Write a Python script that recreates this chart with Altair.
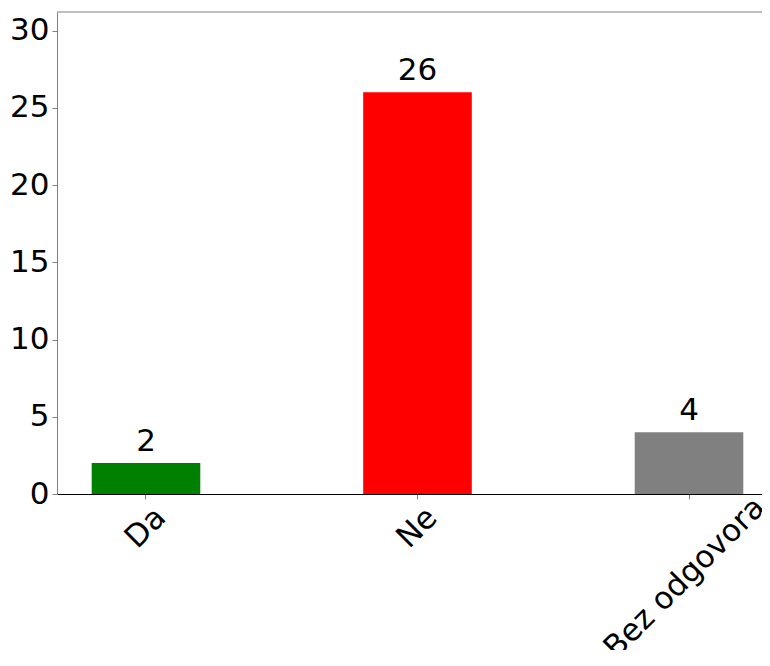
import json
import altair as alt
import pandas as pd

# ---- data ----
categories = ["Da", "Ne", "Bez odgovora"]
counts = [2, 26, 4]
bar_colors = ["#008000", "#ff0000", "#808080"]
title_text = "[Forumske diskusije]"
y_ticks = [0, 5, 10, 15, 20, 25, 30]

df = pd.DataFrame({"odgovor": categories, "broj": counts, "boja": bar_colors})

FONT = "DejaVu Sans"
W, H = 705, 482

x_scale = alt.Scale(domain=categories, paddingInner=0.6, paddingOuter=0.0983,
                    align=0.6498, round=False)
y_scale = alt.Scale(domain=[0, 31.2], nice=False, zero=True)

last_cat = json.dumps(categories[-1])

x_axis = alt.Axis(
    title=None,
    labelAngle=315,
    labelAlign="center",
    labelBaseline="middle",
    labelFontSize=31,
    labelFont=FONT,
    labelColor="black",
    labelLimit=1000,
    labelPadding={"expr": "18.7 + 5*length(datum.label)"},
    labelOffset={"expr": f"datum.value == {last_cat} ? -4 : 0"},
    labelOverlap=False,
    labelFlush=False,
    tickSize=5,
    tickColor="#808080",
    domainColor="black",
    domainWidth=1,
)
y_axis = alt.Axis(
    title=None,
    values=y_ticks,
    labelFontSize=31,
    labelFont=FONT,
    labelColor="black",
    labelPadding=3,
    tickSize=5,
    tickColor="#808080",
    domainColor="#808080",
    domainWidth=1,
    grid=False,
)

base = alt.Chart(df)

bars = base.mark_bar().encode(
    x=alt.X("odgovor:N", scale=x_scale, sort=categories, axis=x_axis),
    y=alt.Y("broj:Q", scale=y_scale, axis=y_axis),
    color=alt.Color("boja:N", scale=None),
)

value_labels = base.mark_text(
    font=FONT, fontSize=31, baseline="alphabetic", align="center", dy=-12, color="black"
).encode(
    x=alt.X("odgovor:N", scale=x_scale, sort=categories),
    y=alt.Y("broj:Q", scale=y_scale),
    text=alt.Text("broj:Q"),
)

top_frame = alt.Chart(pd.DataFrame({"k": [0]})).mark_rule(color="#808080", strokeWidth=1).encode(
    x=alt.value(0), x2=alt.value(W), y=alt.value(0)
)

chart = (
    alt.layer(bars, value_labels, top_frame)
    .properties(
        width=W,
        height=H,
        title=alt.TitleParams(
            text=title_text,
            fontSize=35,
            font=FONT,
            fontWeight="normal",
            color="black",
            anchor="middle",
            baseline="alphabetic",
            offset=3,
            dx=4,
        ),
        autosize=alt.AutoSizeParams(type="none"),
        padding={"left": 49, "top": 4, "right": 0, "bottom": 156},
    )
    .configure_view(stroke=None)
)

chart.save("out.html", embed_options={"renderer": "svg", "actions": False})
